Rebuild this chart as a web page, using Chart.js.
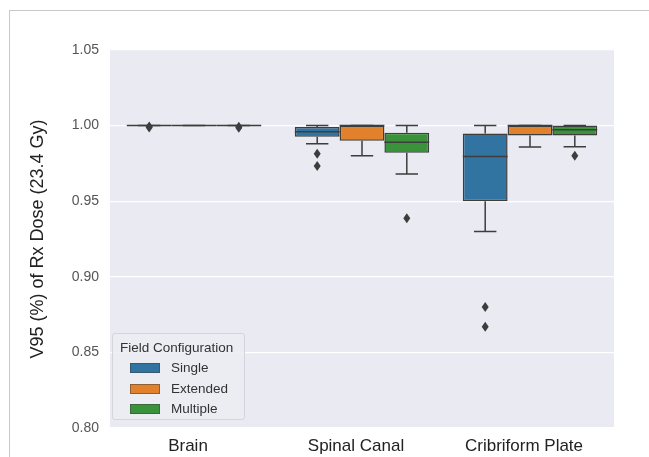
<!DOCTYPE html>
<html>
<head>
<meta charset="utf-8">
<script src="https://cdn.jsdelivr.net/npm/chart.js@4"></script>
<style>
  body { margin: 0; background: #fff; font-family: "Liberation Sans", Arial, sans-serif; }
  #wrap { position: relative; width: 649px; height: 457px; }
  #frame { position: absolute; left: 9px; top: 10px; right: 0; bottom: 0;
           border-top: 1px solid #c8c8c8; border-left: 1px solid #c8c8c8; pointer-events: none; }
  #legend { position: absolute; left: 112px; top: 333px; width: 133px; height: 87px;
            background: rgba(236, 236, 243, 0.85); border: 1px solid #d4d4dc; border-radius: 3px;
            box-sizing: border-box; color: #333; }
  #legend .title { position: absolute; left: 7px; top: 6px; font-size: 13.5px; white-space: nowrap; }
  #legend .row { position: absolute; left: 0; height: 16px; width: 100%; }
  #legend .sw { position: absolute; left: 17px; top: 3px; width: 30px; height: 10px;
                box-sizing: border-box; border: 1px solid rgba(60, 60, 60, 0.5); }
  #legend .lab { position: absolute; left: 58px; top: 0; font-size: 13.5px; line-height: 16px; }
</style>
</head>
<body>
<div id="wrap">
  <canvas id="chart" width="649" height="457"></canvas>
  <div id="frame"></div>
  <div id="legend"></div>
</div>
<script>
const categories = ['Brain', 'Spinal Canal', 'Cribriform Plate'];
const series = ['Single', 'Extended', 'Multiple'];
const colors = ['#3274a1', '#e1812c', '#3a923a'];

// one row per series, one value per category
const q1 = [
    [1.0, 0.9927, 0.950],
    [1.0, 0.990, 0.9935],
    [1.0, 0.982, 0.9935]
];
const medians = [
    [1.0, 0.996, 0.9795],
    [1.0, 1.0, 1.0],
    [1.0, 0.989, 0.9973]
];
const q3 = [
    [1.0, 0.999, 0.9947],
    [1.0, 1.0, 1.0],
    [1.0, 0.9953, 1.0]
];
const whiskerLow = [
    [1.0, 0.988, 0.930],
    [1.0, 0.980, 0.9858],
    [1.0, 0.968, 0.986]
];
const whiskerHigh = [
    [1.0, 1.0, 1.0],
    [1.0, 1.0, 1.0],
    [1.0, 1.0, 1.0]
];
const outliers = [
    [[0.9994, 0.9987], [0.9813, 0.9733], [0.880, 0.867]],
    [[], [], []],
    [[0.9993, 0.9985], [0.9387], [0.980]]
];

const yTicks = [0.80, 0.85, 0.90, 0.95, 1.00, 1.05];
const lineGray = '#3d3d3d';
const fontFamily = '"Liberation Sans", Arial, sans-serif';

const plotBackground = {
    id: 'plotBackground',
    beforeDraw(chart) {
        const a = chart.chartArea;
        const ctx = chart.ctx;
        ctx.save();
        ctx.fillStyle = '#eaeaf2';
        ctx.fillRect(a.left, a.top, a.right - a.left, a.bottom - a.top);
        ctx.restore();
    }
};

const boxParts = {
    id: 'boxParts',
    beforeDatasetsDraw(chart) {
        // whiskers and caps, behind the boxes
        const y = chart.scales.y;
        const ctx = chart.ctx;
        ctx.save();
        ctx.strokeStyle = lineGray;
        ctx.lineWidth = 1.5;
        series.forEach((s, i) => {
            chart.getDatasetMeta(i).data.forEach((bar, j) => {
                const half = bar.width / 4;
                const hi = y.getPixelForValue(whiskerHigh[i][j]);
                const lo = y.getPixelForValue(whiskerLow[i][j]);
                ctx.beginPath();
                ctx.moveTo(bar.x, y.getPixelForValue(q3[i][j]));
                ctx.lineTo(bar.x, hi);
                ctx.moveTo(bar.x, y.getPixelForValue(q1[i][j]));
                ctx.lineTo(bar.x, lo);
                ctx.moveTo(bar.x - half, hi);
                ctx.lineTo(bar.x + half, hi);
                ctx.moveTo(bar.x - half, lo);
                ctx.lineTo(bar.x + half, lo);
                ctx.stroke();
            });
        });
        ctx.restore();
    },
    afterDatasetsDraw(chart) {
        // medians and outlier diamonds
        const y = chart.scales.y;
        const ctx = chart.ctx;
        ctx.save();
        ctx.strokeStyle = lineGray;
        ctx.fillStyle = lineGray;
        ctx.lineWidth = 1.5;
        series.forEach((s, i) => {
            chart.getDatasetMeta(i).data.forEach((bar, j) => {
                const my = y.getPixelForValue(medians[i][j]);
                ctx.beginPath();
                ctx.moveTo(bar.x - bar.width / 2, my);
                ctx.lineTo(bar.x + bar.width / 2, my);
                ctx.stroke();
                outliers[i][j].forEach(v => {
                    const py = y.getPixelForValue(v);
                    ctx.beginPath();
                    ctx.moveTo(bar.x, py - 5);
                    ctx.lineTo(bar.x + 3.5, py);
                    ctx.lineTo(bar.x, py + 5);
                    ctx.lineTo(bar.x - 3.5, py);
                    ctx.closePath();
                    ctx.fill();
                });
            });
        });
        ctx.restore();
    }
};

new Chart(document.getElementById('chart'), {
    type: 'bar',
    data: {
        labels: categories,
        datasets: series.map((name, i) => ({
            label: name,
            data: categories.map((c, j) => [q1[i][j], q3[i][j]]),
            backgroundColor: colors[i],
            borderColor: lineGray,
            borderWidth: 1.5,
            borderSkipped: false,
            categoryPercentage: 0.8,
            barPercentage: 1.0
        }))
    },
    options: {
        responsive: false,
        animation: false,
        layout: { padding: { top: 50, right: 35, left: 0, bottom: 0 } },
        plugins: {
            legend: { display: false },
            tooltip: { enabled: false }
        },
        scales: {
            x: {
                grid: { display: false, drawTicks: false },
                border: { display: false },
                ticks: {
                    color: '#222',
                    padding: 8,
                    labelOffset: -6,
                    font: { size: 17, family: fontFamily }
                },
                afterFit: s => { s.height = 29; }
            },
            y: {
                min: 0.80,
                max: 1.05,
                afterBuildTicks: s => { s.ticks = yTicks.map(v => ({ value: v })); },
                grid: { color: '#ffffff', lineWidth: 1.3, drawTicks: false },
                border: { display: false },
                ticks: {
                    color: '#555',
                    padding: 11,
                    font: { size: 14, family: fontFamily },
                    callback: v => Number(v).toFixed(2)
                },
                title: {
                    display: true,
                    text: 'V95 (%) of Rx Dose (23.4 Gy)',
                    color: '#222',
                    padding: { top: 27, bottom: 0 },
                    font: { size: 18, family: fontFamily }
                },
                afterFit: s => { s.width = 110; }
            }
        }
    },
    plugins: [plotBackground, boxParts]
});

// legend box in the lower left of the plot
const legend = document.getElementById('legend');
legend.innerHTML = '<div class="title">Field Configuration</div>' +
    series.map((name, i) =>
        '<div class="row" style="top:' + (26 + i * 20.5) + 'px">' +
        '<div class="sw" style="background:' + colors[i] + '"></div>' +
        '<div class="lab">' + name + '</div></div>').join('');
</script>
</body>
</html>
